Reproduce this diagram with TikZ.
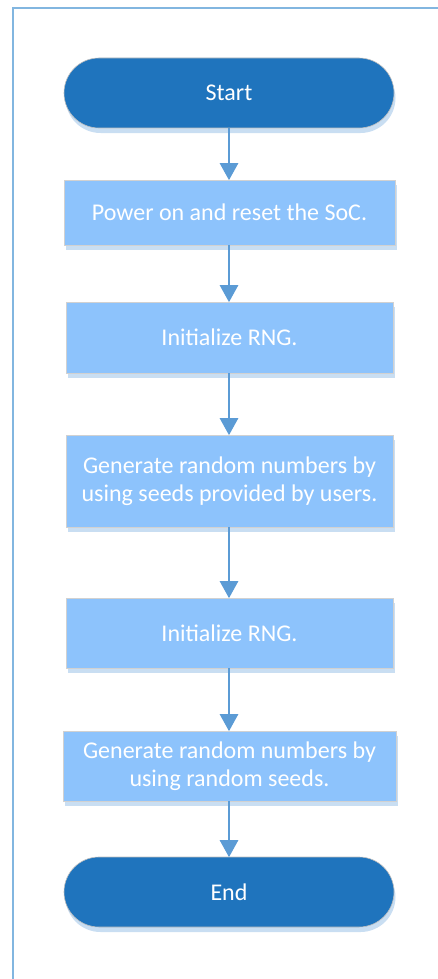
\documentclass[tikz,border=0pt]{standalone}
\usepackage{fontspec}
\setmainfont{Carlito}
\usepackage{xcolor}
\usepackage{tikz}
\usetikzlibrary{shapes.misc,arrows.meta,positioning,shadows}
\definecolor{termblue}{HTML}{1F74BD}
\definecolor{stepblue}{HTML}{8DC3FC}
\definecolor{shadeblue}{HTML}{C9DEF2}
\definecolor{lineblue}{HTML}{5B9BD5}
\definecolor{frameblue}{HTML}{82B6E0}
\tikzset{
    terminal/.style={draw=black!25, line width=0.6pt, rounded rectangle, fill=termblue, minimum width=330pt, minimum height=70pt, inner sep=0pt, text=white, text centered,
        drop shadow={shadow xshift=1.5pt, shadow yshift=-5pt, fill=shadeblue, opacity=1}},
    stepbox/.style={draw=black!18, line width=0.6pt, rectangle, fill=stepblue, minimum width=327pt, inner sep=0pt, text=white, align=center,
        drop shadow={shadow xshift=1.5pt, shadow yshift=-5pt, fill=shadeblue, opacity=1}},
    arrow/.style={-{Triangle[width=18pt,length=17pt]}, line width=2.6pt, lineblue, shorten >=-0.5pt},
    frame/.style={draw=frameblue, line width=2.4pt}
}

\begin{document}
\begin{tikzpicture}[x=1pt, y=-1pt, font=\fontsize{24}{27.5}\selectfont]
    \useasboundingbox (0,0) rectangle (438,979);
    \draw[frame] (13,1000) -- (13,8) -- (460,8);

    \node[terminal] (start) at (229,93) {Start};
    \node[stepbox, minimum height=65pt, minimum width=331pt] (power) at (229.5,212.5) {Power on and reset the SoC.};
    \node[stepbox, minimum height=71pt] (init1) at (229.5,337.5) {Initialize RNG.};
    \node[stepbox, minimum height=92pt] (gen1) at (229.5,481) {Generate random numbers by\\using seeds provided by users.};
    \node[stepbox, minimum height=70pt] (init2) at (229.5,633) {Initialize RNG.};
    \node[stepbox, minimum height=70pt, minimum width=333pt] (gen2) at (229.5,766) {Generate random numbers by\\using random seeds.};
    \node[terminal] (stop) at (229,892) {End};

    \draw[arrow] (start.south -| 229,0) -- (power.north -| 229,0);
    \draw[arrow] (power.south -| 229,0) -- (init1.north -| 229,0);
    \draw[arrow] (init1.south -| 229,0) -- (gen1.north -| 229,0);
    \draw[arrow] (gen1.south -| 229,0) -- (init2.north -| 229,0);
    \draw[arrow] (init2.south -| 229,0) -- (gen2.north -| 229,0);
    \draw[arrow] (gen2.south -| 229,0) -- (stop.north -| 229,0);
\end{tikzpicture}
\end{document}
